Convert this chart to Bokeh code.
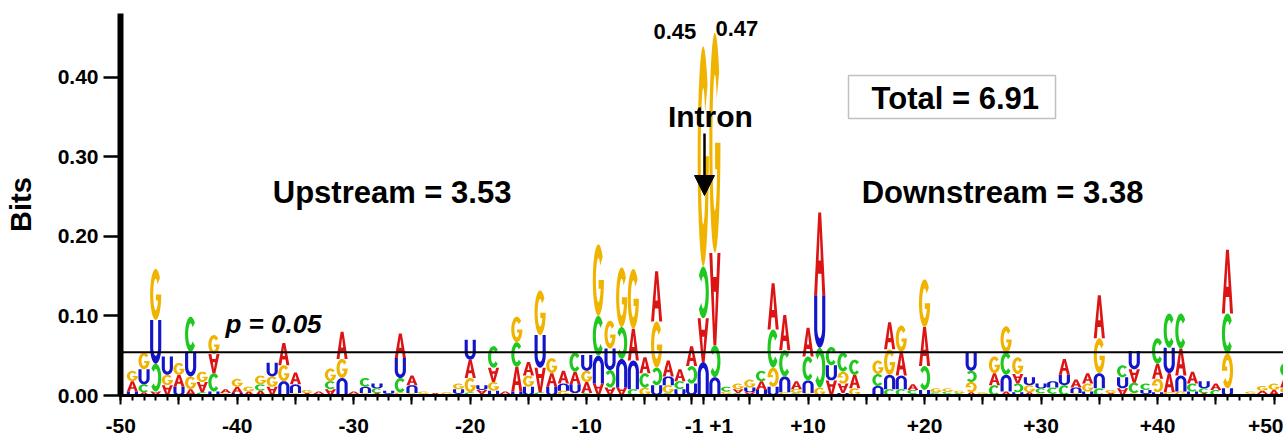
import numpy as np
from bokeh.plotting import figure
from bokeh.models import (Range1d, FixedTicker, Span, Label, BoxAnnotation, Arrow,
                          NormalHead, ColumnDataSource, NumeralTickFormatter)
from bokeh.embed import file_html
from bokeh.resources import INLINE

# ---------------- data ----------------
# positions -50..-1, +1..+50 (index 0..99); values in bits, negative = letter drawn upside-down
positions = list(range(-50, 0)) + list(range(1, 51))

A = [0.013, 0.004, -0.005, -0.013, 0.015, 0.008, -0.013, -0.024, 0.005, 0.008,
     0.005, 0.006, -0.011, 0.028, 0.015, 0.003, 0.003, -0.008, 0.034, 0.003,
     0.0, 0.003, 0.002, 0.031, 0.012, 0.002, 0.002, 0.001, 0.002, 0.023,
     -0.005, -0.018, 0.003, 0.031, 0.017, -0.031, 0.017, 0.016, 0.016, 0.014,
     -0.015, -0.010, -0.010, 0.040, 0.020, 0.063, 0.020, 0.015, 0.025, -0.055,
     -0.116, 0.002, -0.005, -0.004, 0.011, 0.058, 0.044, 0.010, 0.036, 0.104,
     -0.019, -0.012, 0.017, 0.0, 0.0, 0.034, 0.030, 0.007, 0.049, 0.002,
     0.002, 0.0, 0.004, 0.002, 0.015, 0.005, -0.012, 0.004, 0.0, 0.002,
     0.020, 0.010, 0.013, 0.054, 0.002, -0.009, -0.017, 0.0, 0.019, 0.024,
     0.034, 0.015, 0.003, 0.008, 0.080, 0.0, 0.0, 0.004, 0.007, 0.014]

C = [0.0, 0.010, -0.035, 0.0, 0.0, 0.044, 0.004, 0.023, 0.0, 0.0,
     0.0, 0.008, 0.0, 0.0, 0.0, 0.0, 0.0, 0.010, 0.002, 0.0,
     0.011, 0.006, 0.0, 0.018, 0.0, 0.0, 0.0, 0.0, 0.0, 0.004,
     0.002, 0.027, 0.0, 0.031, 0.0, 0.004, 0.0, 0.0, 0.024, 0.003,
     0.050, -0.022, -0.040, 0.008, 0.018, -0.022, 0.003, 0.010, -0.022, -0.065,
     -0.040, 0.006, 0.003, 0.0, 0.013, 0.048, 0.033, 0.003, 0.030, -0.050,
     0.023, 0.024, 0.019, 0.0, 0.015, 0.008, 0.008, 0.005, -0.030, 0.002,
     0.003, 0.003, -0.014, 0.0, 0.013, 0.028, -0.011, 0.0, 0.006, 0.008,
     0.013, 0.0, 0.0, 0.009, 0.0, 0.015, 0.013, 0.008, 0.032, 0.043,
     0.044, 0.010, 0.006, 0.007, 0.050, 0.0, 0.0, 0.002, 0.0, 0.017]

G = [0.013, 0.021, 0.064, 0.013, 0.015, 0.016, 0.013, 0.024, 0.003, 0.010,
     0.006, 0.011, 0.013, 0.020, 0.003, 0.004, 0.002, 0.016, 0.024, 0.002,
     0.003, 0.0, 0.0, 0.004, 0.003, 0.003, 0.001, 0.003, 0.007, 0.018,
     0.0, 0.011, 0.002, 0.032, 0.014, 0.056, 0.019, 0.006, 0.003, 0.014,
     0.090, 0.035, 0.075, 0.075, 0.010, 0.058, 0.010, 0.0, 0.0, 0.277,
     0.277, 0.003, 0.007, 0.010, 0.0, -0.024, 0.004, 0.005, 0.003, 0.010,
     0.0, -0.015, 0.009, 0.002, 0.017, 0.032, 0.033, 0.002, 0.060, 0.005,
     0.004, 0.003, -0.013, 0.002, 0.021, 0.033, 0.021, 0.009, 0.003, 0.0,
     0.0, 0.003, 0.010, 0.044, 0.004, 0.0, 0.003, 0.002, -0.017, 0.004,
     0.005, 0.0, 0.0, 0.0, -0.044, 0.002, 0.003, 0.006, 0.008, 0.007]

U = [0.005, 0.019, 0.055, 0.023, 0.011, 0.031, 0.0, 0.005, 0.0, 0.003,
     0.0, 0.0, 0.017, -0.018, -0.011, 0.0, 0.0, 0.0, -0.020, 0.0,
     -0.008, 0.006, 0.004, 0.025, -0.010, 0.0, 0.0, 0.0, 0.006, 0.025,
     0.006, 0.006, 0.0, 0.005, 0.011, 0.041, 0.011, -0.009, 0.011, 0.020,
     -0.035, 0.027, -0.036, -0.036, 0.0, 0.013, -0.011, 0.008, 0.015, -0.042,
     -0.023, 0.0, 0.0, 0.006, 0.007, 0.011, -0.020, 0.0, -0.016, 0.066,
     0.019, 0.003, 0.0, 0.0, -0.012, -0.018, -0.017, 0.0, 0.007, 0.0,
     0.0, 0.0, 0.023, 0.0, 0.0, -0.021, 0.004, 0.010, 0.006, -0.008,
     0.013, -0.007, 0.005, -0.019, 0.001, 0.014, 0.023, 0.005, 0.004, 0.032,
     -0.020, 0.005, 0.009, 0.0, 0.009, 0.0, 0.002, 0.0, 0.0, 0.003]

P_THRESHOLD = 0.0545
TICK_LABELS = {0: "-50", 10: "-40", 20: "-30", 30: "-20", 40: "-10",
               50: "\u00a0\u00a0-1 +1", 59: "+10", 69: "+20", 79: "+30", 89: "+40", 99: "+50"}
Y_TICKS = [0.0, 0.1, 0.2, 0.3, 0.4]

# ---------------- styles ----------------
COLORS = {"A": "#dc1414", "C": "#1ec81e", "G": "#f0b400", "U": "#1414c8"}
FONT = "Liberation Sans"
COLUMN_OFFSET = 1.0
LETTER_W = 0.96


def arc(cx, cy, rx, ry, a0, a1, n=30):
    t = np.radians(np.linspace(a0, a1, n))
    return (cx + rx * np.cos(t)).tolist(), (cy + ry * np.sin(t)).tolist()


def letter_rings(letter):
    if letter == "A":
        return [([0.0, 0.27, 0.35, 0.65, 0.73, 1.0, 0.63, 0.37],
                 [0.0, 0.0, 0.26, 0.26, 0.0, 0.0, 1.0, 1.0]),
                ([0.40, 0.60, 0.5], [0.42, 0.42, 0.78])]
    if letter == "C":
        ox, oy = arc(0.5, 0.5, 0.5, 0.5, 40, 320)
        ix, iy = arc(0.5, 0.5, 0.22, 0.31, 320, 40)
        return [(ox + ix, oy + iy)]
    if letter == "G":
        ox, oy = arc(0.5, 0.5, 0.5, 0.5, 40, 360)
        ix, iy = arc(0.5, 0.5, 0.22, 0.31, 337, 40)
        return [(ox + [0.52, 0.52] + ix, oy + [0.5, 0.38] + iy)]
    # U
    ox, oy = arc(0.5, 0.38, 0.5, 0.38, 180, 360)
    ix, iy = arc(0.5, 0.38, 0.22, 0.2, 360, 180)
    return [([0.0] + ox + [1.0, 0.72] + ix + [0.28],
             [1.0] + oy + [1.0, 1.0] + iy + [1.0])]


SHAPES = {k: letter_rings(k) for k in "ACGU"}
SERIES = {"A": A, "C": C, "G": G, "U": U}

xs, ys, cols = [], [], []
for i in range(len(positions)):
    stack = sorted((abs(SERIES[k][i]), k, SERIES[k][i] < 0) for k in "ACGU" if SERIES[k][i] != 0)
    base = 0.0
    xc = i + COLUMN_OFFSET
    for h, k, flipped in stack:
        rx_list, ry_list = [], []
        for rxs, rys in SHAPES[k]:
            if flipped:
                rxs = [1 - t for t in rxs]
                rys = [1 - t for t in rys]
            rx_list.append([xc - LETTER_W / 2 + t * LETTER_W for t in rxs])
            ry_list.append([base + t * h for t in rys])
        xs.append([rx_list])
        ys.append([ry_list])
        cols.append(COLORS[k])
        base += h

src = ColumnDataSource(dict(xs=xs, ys=ys, color=cols))

p = figure(width=1283, height=439, output_backend="svg", toolbar_location=None,
           x_range=Range1d(-0.02, 99.81), y_range=Range1d(0, 0.48),
           min_border_left=120, min_border_right=0, min_border_top=13, min_border_bottom=44)
p.background_fill_color = "white"
p.border_fill_color = "white"
p.outline_line_color = None
p.xgrid.visible = False
p.ygrid.visible = False

p.multi_polygons(xs="xs", ys="ys", fill_color="color", line_color=None, source=src)

p.add_layout(Span(location=P_THRESHOLD, dimension="width", line_color="black", line_width=2))

# x axis
major = [0, 5, 10, 15, 20, 25, 30, 35, 40, 45, 49, 50, 54, 59, 64, 69, 74, 79, 84, 89, 94, 99]
xa = p.xaxis[0]
xa.ticker = FixedTicker(ticks=major, minor_ticks=list(range(100)))
xa.major_label_overrides = {t: TICK_LABELS.get(t, "") for t in major}
xa.axis_line_width = 3
xa.major_tick_line_width = 2
xa.major_tick_out = 9
xa.major_tick_in = 0
xa.minor_tick_line_width = 2
xa.minor_tick_out = 5
xa.minor_tick_in = 0
xa.major_label_text_font = FONT
xa.major_label_text_font_size = "21px"
xa.major_label_text_font_style = "bold"
xa.major_label_text_color = "black"
xa.major_label_standoff = 9

# y axis
ya = p.yaxis[0]
ya.ticker = FixedTicker(ticks=Y_TICKS)
ya.formatter = NumeralTickFormatter(format="0.00")
ya.axis_line_width = 6
ya.major_tick_line_width = 2.5
ya.major_tick_out = 17
ya.major_tick_in = 0
ya.minor_tick_line_color = None
ya.major_label_text_font = FONT
ya.major_label_text_font_size = "21px"
ya.major_label_text_font_style = "bold"
ya.major_label_text_color = "black"
ya.major_label_standoff = 5
ya.axis_label = "Bits"
ya.axis_label_text_font = FONT
ya.axis_label_text_font_size = "29px"
ya.axis_label_text_font_style = "bold"
ya.axis_label_text_color = "black"
ya.axis_label_standoff = 18


def lab(x, y, text, size, style="bold", align="left"):
    p.add_layout(Label(x=x, y=y, text=text, text_font=FONT, text_font_size=size,
                       text_font_style=style, text_align=align, text_baseline="middle",
                       text_color="black"))


p.add_layout(BoxAnnotation(left=62.47, right=80.24, bottom=0.3481, top=0.4021,
                           fill_color="white", fill_alpha=1.0,
                           line_color="#333333", line_width=1.5))
lab(13.05, 0.2557, "Upstream = 3.53", "31px")
lab(63.6, 0.2557, "Downstream = 3.38", "31px")
lab(64.45, 0.3738, "Total = 6.91", "31px")
lab(50.62, 0.3512, "Intron", "30px", align="center")
lab(45.73, 0.4580, "0.45", "22px")
lab(51.05, 0.4612, "0.47", "22px")
lab(8.99, 0.0898, "p = 0.05", "26px", style="bold italic")

p.add_layout(Arrow(end=NormalHead(size=20, fill_color="black", line_color="black"),
                   x_start=50.11, y_start=0.3292, x_end=50.11, y_end=0.2513,
                   line_width=2.5, line_color="black"))

open("out.html", "w").write(file_html(p, INLINE))
